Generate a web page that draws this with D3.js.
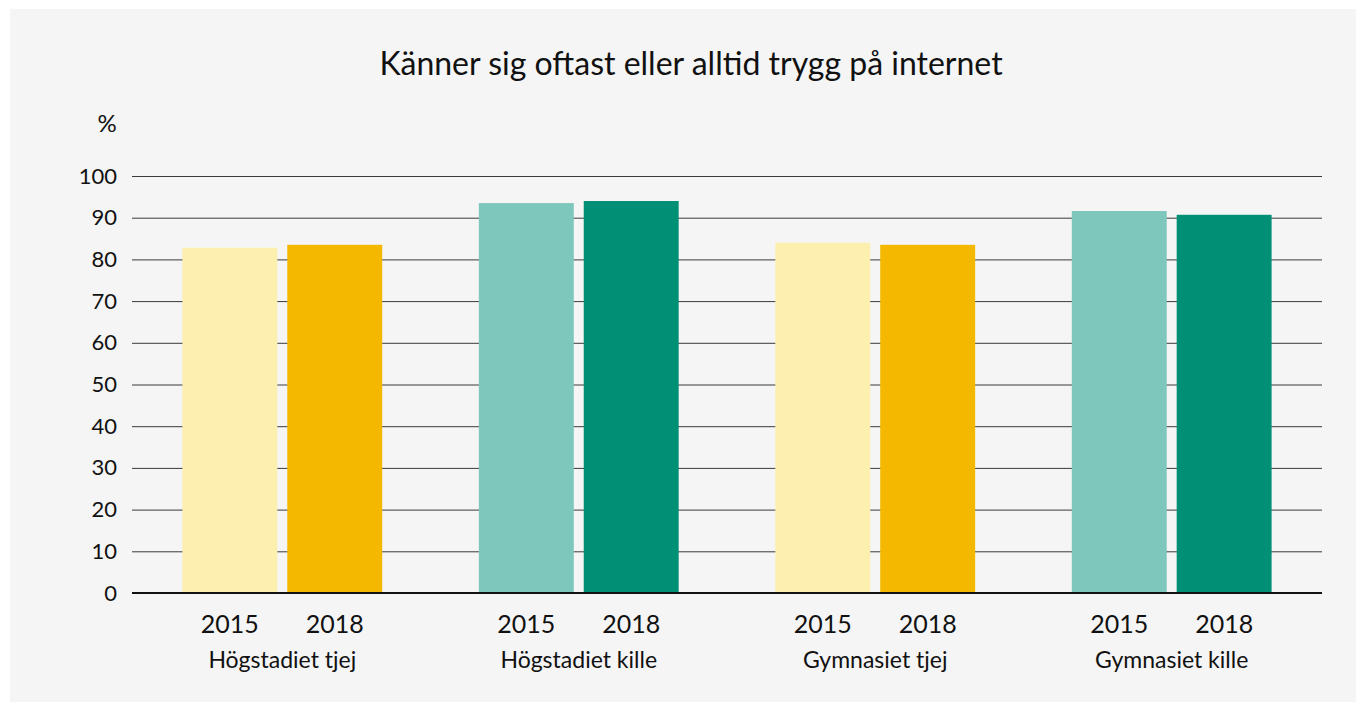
<!DOCTYPE html>
<html>
<head>
<meta charset="utf-8">
<script src="https://cdn.jsdelivr.net/npm/d3@7"></script>
<style>
  body { margin: 0; background: #ffffff; }
  svg { display: block; font-family: Lato, "Noto Sans", sans-serif; }
</style>
</head>
<body>
<div id="chart"></div>
<script>
const categories = ['Högstadiet tjej', 'Högstadiet kille', 'Gymnasiet tjej', 'Gymnasiet kille'];
const years = ['2015', '2018'];
const values2015 = [82.8, 93.5, 84.0, 91.6];
const values2018 = [83.5, 94.0, 83.5, 90.7];
const yTicks = [0, 10, 20, 30, 40, 50, 60, 70, 80, 90, 100];

const colors = {
  'Högstadiet tjej': ['#fdefb0', '#f4b800'],
  'Gymnasiet tjej': ['#fdefb0', '#f4b800'],
  'Högstadiet kille': ['#7dc7bc', '#019076'],
  'Gymnasiet kille': ['#7dc7bc', '#019076']
};

const width = 1362, height = 706;
const margin = { top: 176, right: 40, bottom: 113, left: 132 };
const innerW = width - margin.left - margin.right;
const innerH = height - margin.top - margin.bottom;

const svg = d3.select('#chart').append('svg')
  .attr('width', width)
  .attr('height', height);

svg.append('rect')
  .attr('x', 10).attr('y', 9)
  .attr('width', 1346).attr('height', 693)
  .attr('fill', '#f5f5f5');

svg.append('text')
  .attr('x', 691).attr('y', 75)
  .attr('text-anchor', 'middle')
  .attr('font-size', 32)
  .attr('fill', '#111')
  .text('Känner sig oftast eller alltid trygg på internet');

svg.append('text')
  .attr('x', 107).attr('y', 132)
  .attr('text-anchor', 'middle')
  .attr('font-size', 24)
  .attr('fill', '#111')
  .text('%');

const chart = svg.append('g')
  .attr('transform', `translate(${margin.left}, ${margin.top})`);

const x0 = d3.scaleBand().domain(categories).range([0, innerW])
  .paddingInner(0.326).paddingOuter(0.17);
const x1 = d3.scaleBand().domain(years).range([0, x0.bandwidth()]).paddingInner(0.095);
const y = d3.scaleLinear().domain([0, 100]).range([innerH, 0]);

// grid + tick labels
const yAxis = chart.append('g')
  .call(d3.axisLeft(y).tickValues(yTicks).tickSize(-innerW).tickPadding(15));
yAxis.select('.domain').remove();
yAxis.selectAll('.tick line').attr('stroke', '#3a3a3a').attr('stroke-width', 1);
yAxis.selectAll('.tick text').attr('font-size', 22).attr('fill', '#111')
  .attr('font-family', 'Lato, "Noto Sans", sans-serif');

const data = categories.map((c, i) => ({ cat: c, vals: [values2015[i], values2018[i]] }));

const groups = chart.selectAll('.grp').data(data).join('g')
  .attr('transform', d => `translate(${x0(d.cat)}, 0)`);

groups.selectAll('rect').data(d => d.vals.map((v, j) => ({ cat: d.cat, year: years[j], v, j })))
  .join('rect')
  .attr('x', d => x1(d.year))
  .attr('width', x1.bandwidth())
  .attr('y', d => y(d.v))
  .attr('height', d => innerH - y(d.v))
  .attr('fill', d => colors[d.cat][d.j]);

groups.selectAll('.yr').data(years).join('text')
  .attr('class', 'yr')
  .attr('x', d => x1(d) + x1.bandwidth() / 2)
  .attr('y', innerH + 40)
  .attr('text-anchor', 'middle')
  .attr('font-size', 25)
  .attr('fill', '#111')
  .text(d => d);

groups.append('text')
  .attr('x', x0.bandwidth() / 2)
  .attr('y', innerH + 75)
  .attr('text-anchor', 'middle')
  .attr('font-size', 23)
  .attr('fill', '#111')
  .text(d => d.cat);

// baseline
chart.append('line')
  .attr('x1', 0).attr('x2', innerW)
  .attr('y1', y(0)).attr('y2', y(0))
  .attr('stroke', '#111').attr('stroke-width', 2);
</script>
</body>
</html>
